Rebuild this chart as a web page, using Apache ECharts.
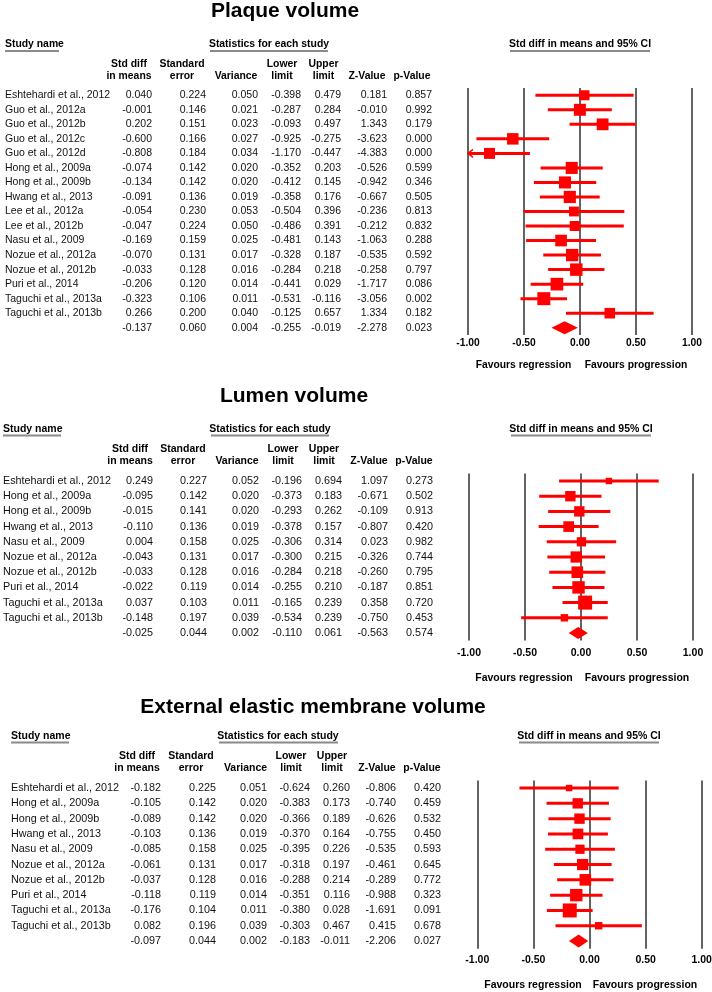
<!DOCTYPE html>
<html><head><meta charset="utf-8">
<script src="https://cdn.jsdelivr.net/npm/echarts@6/dist/echarts.min.js"></script>
<style>html,body{margin:0;padding:0;background:#fff}#c{width:712px;height:992px}</style>
</head><body><div id="c"></div>
<script>
// ---------------- DATA ----------------
const plaqueStudies = ['Eshtehardi et al., 2012','Guo et al., 2012a','Guo et al., 2012b','Guo et al., 2012c','Guo et al., 2012d','Hong et al., 2009a','Hong et al., 2009b','Hwang et al., 2013','Lee et al., 2012a','Lee et al., 2012b','Nasu et al., 2009','Nozue et al., 2012a','Nozue et al., 2012b','Puri et al., 2014','Taguchi et al., 2013a','Taguchi et al., 2013b'];
const plaqueStdDiff = [0.040,-0.001,0.202,-0.600,-0.808,-0.074,-0.134,-0.091,-0.054,-0.047,-0.169,-0.070,-0.033,-0.206,-0.323,0.266,-0.137];
const plaqueSE      = [0.224,0.146,0.151,0.166,0.184,0.142,0.142,0.136,0.230,0.224,0.159,0.131,0.128,0.120,0.106,0.200,0.060];
const plaqueVar     = [0.050,0.021,0.023,0.027,0.034,0.020,0.020,0.019,0.053,0.050,0.025,0.017,0.016,0.014,0.011,0.040,0.004];
const plaqueLower   = [-0.398,-0.287,-0.093,-0.925,-1.170,-0.352,-0.412,-0.358,-0.504,-0.486,-0.481,-0.328,-0.284,-0.441,-0.531,-0.125,-0.255];
const plaqueUpper   = [0.479,0.284,0.497,-0.275,-0.447,0.203,0.145,0.176,0.396,0.391,0.143,0.187,0.218,0.029,-0.116,0.657,-0.019];
const plaqueZ       = [0.181,-0.010,1.343,-3.623,-4.383,-0.526,-0.942,-0.667,-0.236,-0.212,-1.063,-0.535,-0.258,-1.717,-3.056,1.334,-2.278];
const plaqueP       = [0.857,0.992,0.179,0.000,0.000,0.599,0.346,0.505,0.813,0.832,0.288,0.592,0.797,0.086,0.002,0.182,0.023];

const lumenStudies = ['Eshtehardi et al., 2012','Hong et al., 2009a','Hong et al., 2009b','Hwang et al., 2013','Nasu et al., 2009','Nozue et al., 2012a','Nozue et al., 2012b','Puri et al., 2014','Taguchi et al., 2013a','Taguchi et al., 2013b'];
const lumenStdDiff = [0.249,-0.095,-0.015,-0.110,0.004,-0.043,-0.033,-0.022,0.037,-0.148,-0.025];
const lumenSE      = [0.227,0.142,0.141,0.136,0.158,0.131,0.128,0.119,0.103,0.197,0.044];
const lumenVar     = [0.052,0.020,0.020,0.019,0.025,0.017,0.016,0.014,0.011,0.039,0.002];
const lumenLower   = [-0.196,-0.373,-0.293,-0.378,-0.306,-0.300,-0.284,-0.255,-0.165,-0.534,-0.110];
const lumenUpper   = [0.694,0.183,0.262,0.157,0.314,0.215,0.218,0.210,0.239,0.239,0.061];
const lumenZ       = [1.097,-0.671,-0.109,-0.807,0.023,-0.326,-0.260,-0.187,0.358,-0.750,-0.563];
const lumenP       = [0.273,0.502,0.913,0.420,0.982,0.744,0.795,0.851,0.720,0.453,0.574];

const eemStudies = ['Eshtehardi et al., 2012','Hong et al., 2009a','Hong et al., 2009b','Hwang et al., 2013','Nasu et al., 2009','Nozue et al., 2012a','Nozue et al., 2012b','Puri et al., 2014','Taguchi et al., 2013a','Taguchi et al., 2013b'];
const eemStdDiff = [-0.182,-0.105,-0.089,-0.103,-0.085,-0.061,-0.037,-0.118,-0.176,0.082,-0.097];
const eemSE      = [0.225,0.142,0.142,0.136,0.158,0.131,0.128,0.119,0.104,0.196,0.044];
const eemVar     = [0.051,0.020,0.020,0.019,0.025,0.017,0.016,0.014,0.011,0.039,0.002];
const eemLower   = [-0.624,-0.383,-0.366,-0.370,-0.395,-0.318,-0.288,-0.351,-0.380,-0.303,-0.183];
const eemUpper   = [0.260,0.173,0.189,0.164,0.226,0.197,0.214,0.116,0.028,0.467,-0.011];
const eemZ       = [-0.806,-0.740,-0.626,-0.755,-0.535,-0.461,-0.289,-0.988,-1.691,0.415,-2.206];
const eemP       = [0.420,0.459,0.532,0.450,0.593,0.645,0.772,0.323,0.091,0.678,0.027];

const panelTitles = ['Plaque volume','Lumen volume','External elastic membrane volume'];
const tickValues = [-1, -0.5, 0, 0.5, 1];
const colHeaders = [['Std diff','in means'],['Standard','error'],['','Variance'],['Lower','limit'],['Upper','limit'],['','Z-Value'],['','p-Value']];
const hdrStudy = 'Study name', hdrStats = 'Statistics for each study', hdrCI = 'Std diff in means and 95% CI';
const favLeft = 'Favours regression', favRight = 'Favours progression';

// ---------------- LAYOUT ----------------
const FF = '"Liberation Sans", Arial, sans-serif';
const RED = '#ff0000';
const panels = [
  { studies: plaqueStudies, cols: [plaqueStdDiff, plaqueSE, plaqueVar, plaqueLower, plaqueUpper, plaqueZ, plaqueP],
    title: panelTitles[0], titleX: 285, titleY: 11, titleSize: 21, font: 10.5, hdrFont: 10.4,
    nameX: 5, hdrY: 44.5, ulY: 51, studyUl: [5, 59], statsX: 269, statsUl: [210, 328], ciX: 580, ciUl: [510, 650],
    colY1: 64, colY2: 76, colRight: [152, 206, 258, 301, 341, 387, 432], colHdr: [129, 182, 236, 282, 323.5, 367, 412],
    gridLeft: 468, gridWidth: 224, gridTop: 88, gridHeight: 247, tickMargin: 3, favY: 365, favX: [523.5, 636],
    maxBox: 13, tau2: 0.0455, diamondH: 13, tickFont: 10.3 },
  { studies: lumenStudies, cols: [lumenStdDiff, lumenSE, lumenVar, lumenLower, lumenUpper, lumenZ, lumenP],
    title: panelTitles[1], titleX: 294, titleY: 396, titleSize: 21, font: 10.8, hdrFont: 10.5,
    nameX: 3, hdrY: 429, ulY: 435.5, studyUl: [3, 61], statsX: 270, statsUl: [211, 329], ciX: 581, ciUl: [511, 651],
    colY1: 449, colY2: 461, colRight: [153, 207, 259, 302, 342, 388, 433], colHdr: [130, 183, 237, 283, 324, 369, 414],
    gridLeft: 469, gridWidth: 224, gridTop: 473.4, gridHeight: 167.2, tickMargin: 7, favY: 678, favX: [524, 637],
    maxBox: 14, tau2: 0, diamondH: 12, tickFont: 10.5 },
  { studies: eemStudies, cols: [eemStdDiff, eemSE, eemVar, eemLower, eemUpper, eemZ, eemP],
    title: panelTitles[2], titleX: 313, titleY: 707, titleSize: 21, font: 10.8, hdrFont: 10.5,
    nameX: 11, hdrY: 736, ulY: 742.5, studyUl: [11, 69], statsX: 278, statsUl: [219, 338], ciX: 589, ciUl: [519, 659],
    colY1: 756, colY2: 768, colRight: [161, 216, 267, 310, 350, 396, 441], colHdr: [137, 191, 245.5, 291, 332, 377, 422],
    gridLeft: 477.3, gridWidth: 224.4, gridTop: 780.4, gridHeight: 168.3, tickMargin: 6, favY: 985, favX: [533, 645],
    maxBox: 14, tau2: 0, diamondH: 13, tickFont: 10.5 }
];

// ---------------- BUILD ----------------
const grid = [], xAxis = [], yAxis = [], series = [], graphic = [];
function txt(x, y, text, size, bold, align) {
  graphic.push({ type: 'text', x: x, y: y, silent: true,
    style: { text: text, fontSize: size, fontWeight: bold ? 'bold' : 'normal', fontFamily: FF, fill: '#000',
             align: align || 'center', verticalAlign: 'middle' } });
}
function uline(x1, x2, y) {
  graphic.push({ type: 'line', silent: true, shape: { x1: x1, y1: y, x2: x2, y2: y }, style: { stroke: '#8a8a8a', lineWidth: 2 } });
}

panels.forEach((P, gi) => {
  const n = P.studies.length + 1;
  const names = P.studies.concat(['']);
  const vStudies = P.cols[2].slice(0, P.studies.length);
  const vMin = Math.min.apply(null, vStudies);

  grid.push({ left: P.gridLeft, width: P.gridWidth, top: P.gridTop, height: P.gridHeight, containLabel: false, outerBoundsMode: 'none' });
  xAxis.push({ type: 'value', gridIndex: gi, min: -1, max: 1, interval: 0.5,
    axisLine: { show: false }, axisTick: { show: false },
    splitLine: { show: true, showMinLine: true, showMaxLine: true, lineStyle: { color: '#3c3c3c', width: 1.6 } },
    axisLabel: { show: true, showMinLabel: true, showMaxLabel: true, margin: P.tickMargin, fontFamily: FF, fontSize: P.tickFont,
      fontWeight: 'bold', color: '#000', formatter: v => v.toFixed(2) } });
  const yBase = yAxis.length;
  yAxis.push({ type: 'category', gridIndex: gi, inverse: true, position: 'left', data: names,
    axisLine: { show: false }, axisTick: { show: false }, splitLine: { show: false },
    axisLabel: { interval: 0, align: 'left', margin: P.gridLeft - P.nameX, fontFamily: FF, fontSize: P.font, color: '#111' } });
  P.cols.forEach((col, ci) => {
    yAxis.push({ type: 'category', gridIndex: gi, inverse: true, position: 'left', data: names.map((_, i) => String(i)),
      axisLine: { show: false }, axisTick: { show: false }, splitLine: { show: false },
      axisLabel: { interval: 0, align: 'right', margin: P.gridLeft - P.colRight[ci], fontFamily: FF, fontSize: P.font, color: '#111',
        formatter: (v, idx) => col[idx].toFixed(3) } });
  });

  const data = [];
  for (let i = 0; i < n; i++) {
    data.push([i, P.cols[0][i], P.cols[3][i], P.cols[4][i], P.cols[2][i], i === n - 1 ? 1 : 0]);
  }
  series.push({ type: 'custom', xAxisIndex: gi, yAxisIndex: yBase, clip: false, silent: true,
    encode: { x: [1, 2, 3], y: 0 }, data: data,
    renderItem: function (params, api) {
      const idx = api.value(0), est = api.value(1), lo = api.value(2), hi = api.value(3), v = api.value(4), summ = api.value(5);
      const y = api.coord([0, idx])[1];
      const xMin = api.coord([-1, idx])[0], xMax = api.coord([1, idx])[0];
      const xe = api.coord([est, idx])[0], xl = api.coord([lo, idx])[0], xh = api.coord([hi, idx])[0];
      if (summ) {
        const h = P.diamondH / 2;
        return { type: 'polygon', shape: { points: [[xl, y], [xe, y - h], [xh, y], [xe, y + h]] }, style: { fill: RED } };
      }
      const children = [];
      children.push({ type: 'line', shape: { x1: Math.max(xl, xMin), y1: y, x2: Math.min(xh, xMax), y2: y }, style: { stroke: RED, lineWidth: 3 } });
      if (xl < xMin) {
        children.push({ type: 'polyline', shape: { points: [[xMin + 5, y - 4], [xMin, y], [xMin + 5, y + 4]] }, style: { stroke: RED, lineWidth: 1.4, fill: null } });
      }
      const s = P.maxBox * Math.sqrt((vMin + P.tau2) / (v + P.tau2));
      children.push({ type: 'rect', shape: { x: xe - s / 2, y: y - s / 2, width: s, height: s }, style: { fill: RED } });
      return { type: 'group', children: children };
    } });

  // texts
  txt(P.titleX, P.titleY, P.title, P.titleSize, true);
  txt(P.nameX, P.hdrY, hdrStudy, P.hdrFont, true, 'left');
  uline(P.studyUl[0], P.studyUl[1], P.ulY);
  txt(P.statsX, P.hdrY, hdrStats, P.hdrFont, true);
  uline(P.statsUl[0], P.statsUl[1], P.ulY);
  txt(P.ciX, P.hdrY, hdrCI, P.hdrFont, true);
  uline(P.ciUl[0], P.ciUl[1], P.ulY);
  colHeaders.forEach((h, ci) => {
    if (h[0]) txt(P.colHdr[ci], P.colY1, h[0], P.hdrFont, true);
    txt(P.colHdr[ci], P.colY2, h[1], P.hdrFont, true);
  });
  txt(P.favX[0], P.favY, favLeft, P.tickFont, true);
  txt(P.favX[1], P.favY, favRight, P.tickFont, true);
});

const chart = echarts.init(document.getElementById('c'), null, { renderer: 'canvas' });
chart.setOption({ animation: false, backgroundColor: '#fff', grid, xAxis, yAxis, series, graphic });
</script>
</body></html>
